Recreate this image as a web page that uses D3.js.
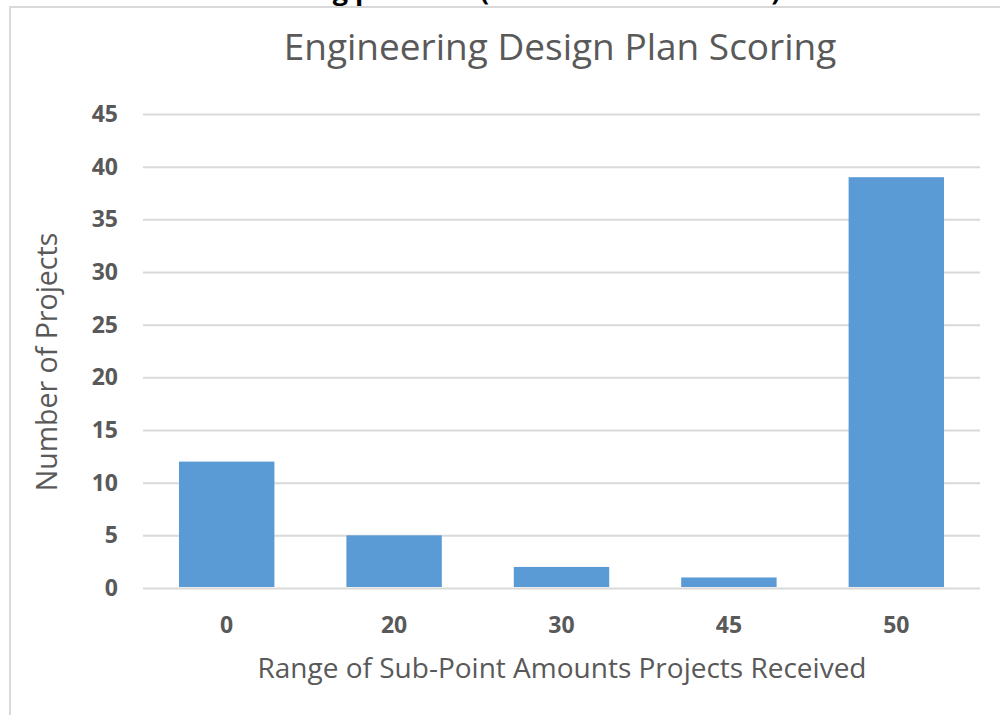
<!DOCTYPE html>
<html>
<head>
<meta charset="utf-8">
<script src="https://cdn.jsdelivr.net/npm/d3@7"></script>
<style>
  html, body { margin: 0; padding: 0; background: #fff; }
  svg { display: block; }
</style>
</head>
<body>
<svg id="chart" width="1000" height="715"></svg>
<script>
const categories = ["0", "20", "30", "45", "50"];
const values = [12, 5, 2, 1, 39];
const yTicks = [0, 5, 10, 15, 20, 25, 30, 35, 40, 45];
const chartTitle = "Engineering Design Plan Scoring";
const xTitle = "Range of Sub-Point Amounts Projects Received";
const yTitle = "Number of Projects";
const clippedHeading = "Scoring points in (out of 50 total marks)";

const svg = d3.select("#chart");
const font = "'Open Sans', sans-serif";
const textGray = "#595959";

// clipped heading above frame (only bottoms visible)
svg.append("text")
  .attr("x", 249).attr("y", 0)
  .attr("font-family", font).attr("font-weight", "bold")
  .attr("font-size", 27).attr("fill", "#000")
  .text(clippedHeading);

// white area below heading, frame
svg.append("rect").attr("x", 10).attr("y", 7).attr("width", 990).attr("height", 708).attr("fill", "#fff");
svg.append("path").attr("d", "M10,715 V7 H1000").attr("fill", "none").attr("stroke", "#d9d9d9").attr("stroke-width", 2);

const x = d3.scaleBand().domain(categories).range([143, 980]).paddingInner(0.43).paddingOuter(0.215);
const y = d3.scaleLinear().domain([0, 45]).range([588, 114]);

// gridlines
const yAxis = d3.axisLeft(y).tickValues(yTicks).tickSize(-(980 - 143)).tickPadding(25);
const gy = svg.append("g").attr("transform", "translate(143,0)").call(yAxis);
gy.select(".domain").remove();
gy.selectAll(".tick line").attr("stroke", "#d9d9d9").attr("stroke-width", 2);
gy.selectAll(".tick text")
  .attr("font-family", font).attr("font-weight", "bold").attr("font-size", 23)
  .attr("fill", textGray);

// bars
svg.append("g").selectAll("rect").data(values).join("rect")
  .attr("x", (d, i) => x(categories[i]))
  .attr("y", d => y(d))
  .attr("width", x.bandwidth())
  .attr("height", d => y(0) - y(d) - 1)
  .attr("fill", "#5b9bd5");

// x axis
const xAxis = d3.axisBottom(x).tickSize(0).tickPadding(29);
const gx = svg.append("g").attr("transform", "translate(0,588)").call(xAxis);
gx.select(".domain").remove();
gx.selectAll(".tick text")
  .attr("font-family", font).attr("font-weight", "bold").attr("font-size", 23)
  .attr("fill", textGray);

// titles
svg.append("text").attr("x", 560).attr("y", 60).attr("text-anchor", "middle")
  .attr("font-family", font).attr("font-size", 37).attr("fill", textGray).text(chartTitle);
svg.append("text").attr("x", 562).attr("y", 678).attr("text-anchor", "middle")
  .attr("font-family", font).attr("font-size", 28).attr("fill", textGray).text(xTitle);
svg.append("text").attr("transform", "translate(57,362) rotate(-90)").attr("text-anchor", "middle")
  .attr("font-family", font).attr("font-size", 28.5).attr("fill", textGray).text(yTitle);
</script>
</body>
</html>
